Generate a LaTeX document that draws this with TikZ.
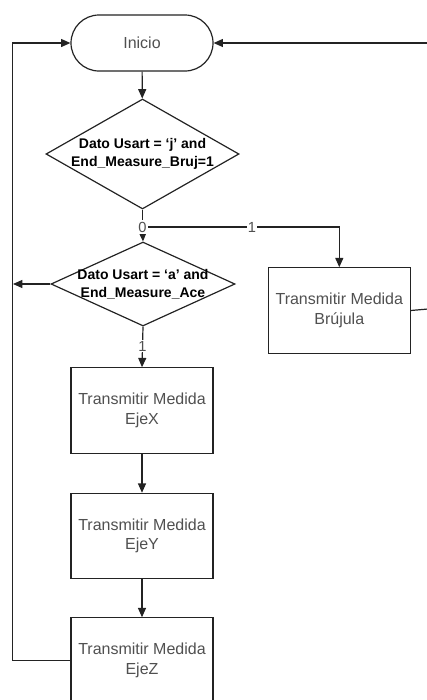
\documentclass[tikz,border=0pt]{standalone}
\usepackage{fontspec}
\setmainfont{Liberation Sans}
\usetikzlibrary{arrows.meta,shapes.geometric}
\definecolor{trazo}{RGB}{35,35,35}
\definecolor{texto}{RGB}{80,80,80}
\newcommand{\medida}[4]{\node[caja](#1) at (#3,#4) {Transmitir Medida\\#2};}

\begin{document}
\begin{tikzpicture}[x=0.75pt,y=-0.75pt,
	caja/.style={draw=trazo,line width=0.9pt,minimum width=106.5pt,minimum height=64pt,align=center,text=texto,font=\fontsize{12}{14.5}\selectfont},
	inicio/.style={draw=trazo,line width=0.9pt,minimum width=106.5pt,minimum height=42pt,rounded corners=21pt,text=texto,font=\fontsize{12}{14.5}\selectfont},
	decision/.style={diamond,draw=trazo,line width=0.9pt,inner sep=0pt},
	pregunta/.style={align=center,text=black,font=\bfseries\fontsize{10.5}{13.3}\selectfont},
	conector/.style={draw=trazo,line width=0.9pt},
	flecha/.style={conector,-{Triangle[length=7pt,width=6pt]}},
	etiq/.style={fill=white,inner sep=1pt,text=texto,font=\fontsize{11}{13}\selectfont}]
	\useasboundingbox (0,0) rectangle (426,700);

	\node[inicio](ini) at (142,43) {Inicio};
	\node[decision,minimum width=144.75pt,minimum height=82.5pt](d1) at (142.5,154) {};
	\node[pregunta](p1) at (d1) {Dato Usart = `j' and\\End\_Measure\_Bruj=1};
	\node[decision,minimum width=138pt,minimum height=63pt](d2) at (143,284) {};
	\node[pregunta](p2) at (d2) {Dato Usart = `a' and\\End\_Measure\_Ace};

	\medida{bru}{Br\'ujula}{339.3}{310.5}
	\medida{ejex}{EjeX}{142}{410.5}
	\medida{ejey}{EjeY}{142}{536}
	\medida{ejez}{EjeZ}{142}{660.5}

	\coordinate (j0) at (142.5,227);
	\coordinate (izq) at (13,284);
	\coordinate (der0) at (428,43);
	\coordinate (der1) at (428,309);

	\draw[flecha] (ini) -- (d1);
	\draw[conector] (d1.south) -- (j0);
	\draw[flecha] (j0) -- (d2.north);
	\draw[flecha] (j0) -| (bru.north);
	\draw[flecha] (d2.west) -- (izq);
	\draw[flecha] (d2.south) -- (ejex.north);
	\draw[flecha] (ejex) -- (ejey);
	\draw[flecha] (ejey) -- (ejez);
	\draw[flecha] (ejez.west) -- ++(-58,0) |- (ini.west);
	\draw[flecha] (der0) -- (ini.east);
	\draw[conector] (bru.east) -- (der1);

	\node[etiq](c0) at (j0) {0};
	\node[etiq](c1) at (252,227) {1};
	\node[etiq](c2) at (142.5,346) {1};
\end{tikzpicture}
\end{document}
